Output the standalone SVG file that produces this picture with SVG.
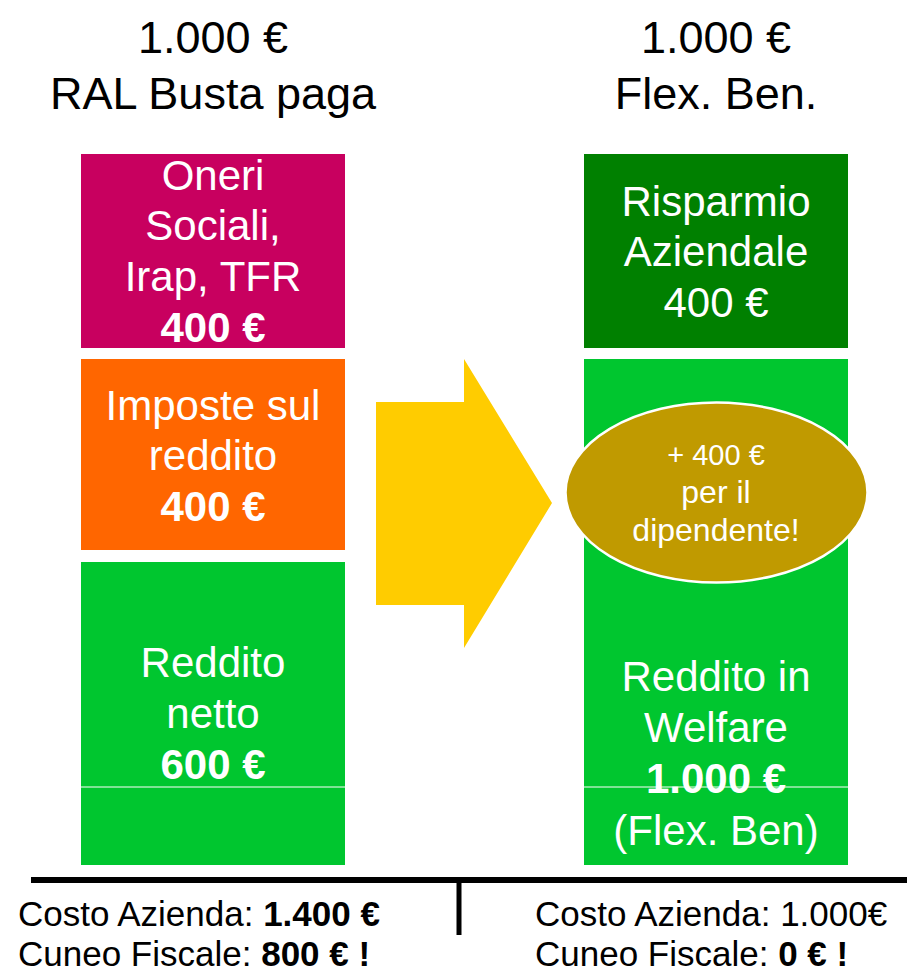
<svg xmlns="http://www.w3.org/2000/svg" width="907" height="976" viewBox="0 0 907 976">
<style>
text{font-family:"Liberation Sans",Arial,sans-serif;}
.title{font-size:45px;fill:#000;text-anchor:middle;}
.box{font-size:42px;fill:#fff;text-anchor:middle;}
.b{font-weight:bold;}
.ell{font-size:32px;fill:#fff;text-anchor:middle;}
.foot{font-size:35px;fill:#000;}
</style>
<rect width="907" height="976" fill="#fff"/>
<g id="title-left">
<text class="title" x="213" y="53">1.000 €</text>
<text class="title" x="213" y="109">RAL Busta paga</text>
</g>
<g id="title-right">
<text class="title" x="716" y="53">1.000 €</text>
<text class="title" x="716" y="109">Flex. Ben.</text>
</g>
<g id="oneri">
<rect x="81" y="154" width="264" height="194" fill="#C8005F"/>
<text class="box" x="213" y="190">Oneri</text>
<text class="box" x="213" y="240">Sociali,</text>
<text class="box" x="213" y="291">Irap, TFR</text>
<text class="box b" x="213" y="342">400 €</text>
</g>
<g id="imposte">
<rect x="81" y="359" width="264" height="191" fill="#FF6600"/>
<text class="box" x="213" y="420">Imposte sul</text>
<text class="box" x="213" y="470">reddito</text>
<text class="box b" x="213" y="521">400 €</text>
</g>
<g id="netto">
<rect x="81" y="562" width="264" height="303" fill="#00C62F"/>
<line x1="81" y1="787" x2="345" y2="787" stroke="#fff" stroke-width="1"/>
<text class="box" x="213" y="677">Reddito</text>
<text class="box" x="213" y="728">netto</text>
<text class="box b" x="213" y="779">600 €</text>
</g>
<g id="risparmio">
<rect x="584" y="154" width="264" height="194" fill="#008000"/>
<text class="box" x="716" y="216">Risparmio</text>
<text class="box" x="716" y="266">Aziendale</text>
<text class="box" x="716" y="317">400 €</text>
</g>
<g id="welfare">
<rect x="584" y="359" width="264" height="506" fill="#00C62F"/>
<text class="box" x="716" y="691">Reddito in</text>
<text class="box" x="716" y="742">Welfare</text>
<text class="box b" x="716" y="793">1.000 €</text>
<line x1="584" y1="787" x2="848" y2="787" stroke="#fff" stroke-width="1"/>
<text class="box" x="716" y="845">(Flex. Ben)</text>
</g>
<g id="arrow">
<polygon points="376,402 464,402 464,359 552,503 464,648 464,605 376,605" fill="#FFCC00"/>
</g>
<g id="bonus">
<ellipse cx="716.5" cy="492.5" rx="151" ry="90" fill="#C09A00" stroke="#fff" stroke-width="2.5"/>
<text class="ell" x="716" y="465" style="font-size:29px">+ 400 €</text>
<text class="ell" x="716" y="503">per il</text>
<text class="ell" x="716" y="541">dipendente!</text>
</g>
<g id="connectors">
<line x1="31" y1="880" x2="907" y2="880" stroke="#000" stroke-width="6"/>
<line x1="459" y1="880" x2="459" y2="935" stroke="#000" stroke-width="5"/>
</g>
<g id="footer-left">
<text class="foot" x="18" y="926">Costo Azienda: <tspan class="b">1.400 €</tspan></text>
<text class="foot" x="18" y="966">Cuneo Fiscale: <tspan class="b">800 € !</tspan></text>
</g>
<g id="footer-right">
<text class="foot" x="535" y="926">Costo Azienda: 1.000€</text>
<text class="foot" x="535" y="966">Cuneo Fiscale: <tspan class="b">0 € !</tspan></text>
</g>
</svg>
